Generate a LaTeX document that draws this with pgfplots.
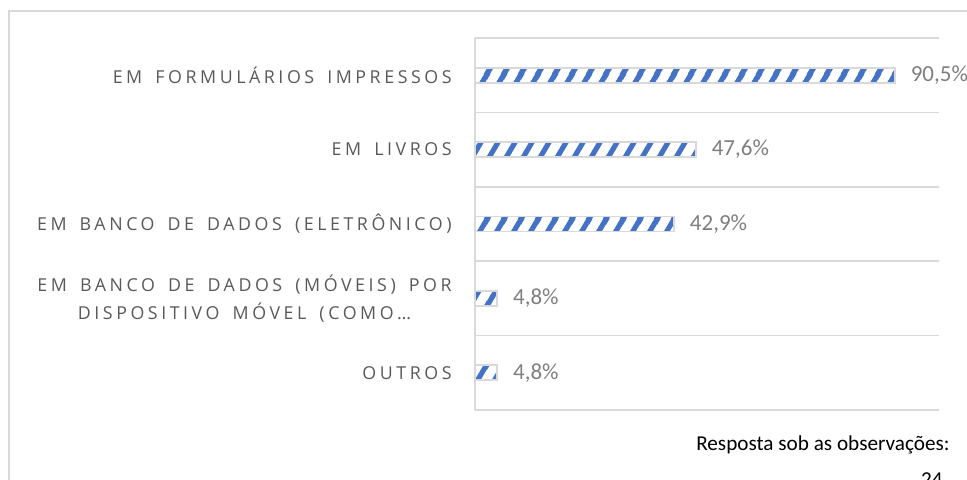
\documentclass[border=0pt]{standalone}
\usepackage{fontspec}
\setmainfont{Carlito}
\newfontfamily\spaced[LetterSpace=20, WordSpace=1.6]{Open Sans}
\usepackage{pgfplots}
\pgfplotsset{compat=1.18}
\usetikzlibrary{patterns.meta}
\definecolor{barblue}{HTML}{4472C4}
\definecolor{gridgray}{HTML}{D9D9D9}
\definecolor{labgray}{HTML}{595959}
\definecolor{valgray}{HTML}{7F7F7F}

% steep upward diagonal stripes
\tikzdeclarepattern{
  name=wideup,
  type=uncolored,
  bounding box={(0,0) and (8.4pt,14.5pt)},
  tile size={(8.4pt,14.5pt)},
  code={
    \pgfsetlinewidth{2.6pt}
    \draw (-8.4pt,-14.5pt) -- (16.8pt,29pt);
    \draw (0pt,-14.5pt) -- (25.2pt,29pt);
    \draw (-16.8pt,-14.5pt) -- (8.4pt,29pt);
  }
}

\begin{document}
\begin{tikzpicture}
\useasboundingbox (0,0) rectangle (483.5pt,239.5pt);
\clip (0,0) rectangle (483.5pt,239.5pt);
\draw[gridgray, line width=0.75pt] (4.5pt,234pt) rectangle (495pt,-10pt);
\begin{axis}[at={(237.5pt,34.5pt)}, anchor=south west, scale only axis,
  width=232pt, height=186pt,
  xbar, bar width=7.5pt,
  xmin=0, xmax=100, ymin=-0.5, ymax=4.5,
  axis x line=none, axis y line*=left,
  y axis line style={gridgray, line width=0.75pt, -},
  ytick={0,...,4},
  yticklabels={OUTROS,
    {EM BANCO DE DADOS (MÓVEIS) POR\\[1pt]DISPOSITIVO MÓVEL (COMO…},
    EM BANCO DE DADOS (ELETRÔNICO), EM LIVROS, EM FORMULÁRIOS IMPRESSOS},
  major tick length=0pt, minor tick length=0pt,
  minor ytick={-0.5,0.5,...,4.5},
  yminorgrids=true, minor grid style={gridgray, line width=0.75pt},
  yticklabel style={font=\fontsize{8.9}{13}\spaced, text=labgray, align=center, inner sep=0pt, xshift=-11.5pt},
  /pgf/number format/assume math mode=true,
  nodes near coords={\pgfmathprintnumber[fixed, precision=1, fixed zerofill, use comma]{\pgfplotspointmeta}\%},
  nodes near coords style={font=\fontsize{11.5}{13}\selectfont, text=valgray, anchor=west, inner sep=0pt, xshift=7.5pt},
  clip=false]
\addplot[draw=gridgray, line width=0.9pt, pattern={wideup}, pattern color=barblue]
  coordinates {(4.8,0) (4.8,1) (42.9,2) (47.6,3) (90.5,4)};
\end{axis}
\node[anchor=base east, inner sep=0pt, font=\fontsize{10.6}{12}\selectfont] at (475pt,14.5pt) {Resposta sob as observações:};
\node[anchor=base east, inner sep=0pt, font=\fontsize{10.6}{12}\selectfont] at (471.5pt,-3.5pt) {24};
\end{tikzpicture}
\end{document}
